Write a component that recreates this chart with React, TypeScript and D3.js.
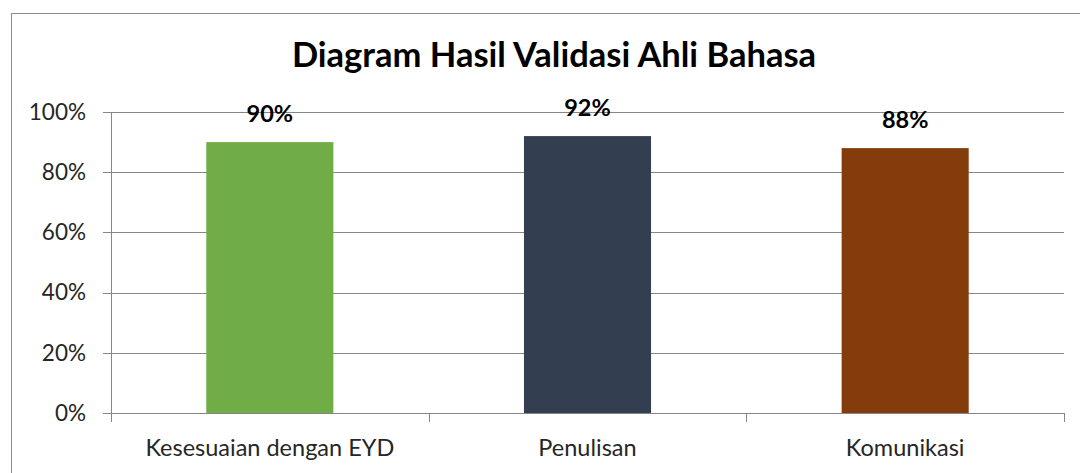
import React, { useEffect, useRef } from "react";
import * as d3 from "d3";

const categories = ["Kesesuaian dengan EYD", "Penulisan", "Komunikasi"];
const values = [0.9, 0.92, 0.88];
const barColors = ["#70AD47", "#333F50", "#843C0C"];
const yTicks = [0, 0.2, 0.4, 0.6, 0.8, 1];
const title = "Diagram Hasil Validasi Ahli Bahasa";

export default function App() {
  const ref = useRef<SVGSVGElement>(null);

  useEffect(() => {
    const width = 1080;
    const height = 473;
    const margin = { left: 111, right: 16, top: 112, bottom: 60 };
    const font = "Lato, Carlito, Calibri, sans-serif";

    const svg = d3.select(ref.current);
    svg.selectAll("*").remove();

    svg
      .append("rect")
      .attr("width", width)
      .attr("height", height)
      .attr("fill", "#fff");

    // chart border (runs off the picture at right and bottom)
    svg
      .append("rect")
      .attr("x", 11.5)
      .attr("y", 13.5)
      .attr("width", width + 20)
      .attr("height", height + 20)
      .attr("fill", "none")
      .attr("stroke", "#8c8c8c")
      .attr("stroke-width", 1);

    svg
      .append("text")
      .attr("x", 554)
      .attr("y", 67)
      .attr("text-anchor", "middle")
      .attr("font-family", font)
      .attr("font-weight", "bold")
      .attr("font-size", "34.5px")
      .attr("fill", "#000")
      .text(title);

    const innerW = width - margin.left - margin.right;
    const innerH = height - margin.top - margin.bottom;

    const g = svg
      .append("g")
      .attr("transform", `translate(${margin.left},${margin.top})`);

    const x = d3
      .scaleBand()
      .domain(categories)
      .range([0, innerW])
      .paddingInner(0.6)
      .paddingOuter(0.3);
    const y = d3.scaleLinear().domain([0, 1]).range([innerH, 0]);

    // gridlines + left ticks
    g.selectAll(".grid")
      .data(yTicks)
      .enter()
      .append("line")
      .attr("x1", -8)
      .attr("x2", innerW)
      .attr("y1", (d) => Math.round(y(d)) + 0.5)
      .attr("y2", (d) => Math.round(y(d)) + 0.5)
      .attr("stroke", "#868686")
      .attr("stroke-width", 1);

    g.selectAll(".ylab")
      .data(yTicks)
      .enter()
      .append("text")
      .attr("x", -25)
      .attr("y", (d) => y(d))
      .attr("dy", "0.35em")
      .attr("text-anchor", "end")
      .attr("font-family", font)
      .attr("font-size", "22.5px")
      .attr("fill", "#262626")
      .text((d) => d3.format(".0%")(d));

    // value axis line
    g.append("line")
      .attr("x1", 0.5)
      .attr("x2", 0.5)
      .attr("y1", 0)
      .attr("y2", innerH)
      .attr("stroke", "#868686");

    // category boundary ticks
    const step = innerW / categories.length;
    g.selectAll(".ctick")
      .data(d3.range(categories.length + 1))
      .enter()
      .append("line")
      .attr("x1", (i) => Math.round(i * step) + 0.5)
      .attr("x2", (i) => Math.round(i * step) + 0.5)
      .attr("y1", innerH)
      .attr("y2", innerH + 9)
      .attr("stroke", "#868686");

    g.selectAll(".bar")
      .data(values)
      .enter()
      .append("rect")
      .attr("x", (d, i) => x(categories[i]) as number)
      .attr("width", x.bandwidth())
      .attr("y", (d) => y(d))
      .attr("height", (d) => innerH - y(d))
      .attr("fill", (d, i) => barColors[i]);

    // axis line drawn over bars
    g.append("line")
      .attr("x1", 0)
      .attr("x2", innerW)
      .attr("y1", Math.round(innerH) + 0.5)
      .attr("y2", Math.round(innerH) + 0.5)
      .attr("stroke", "#868686");

    g.selectAll(".vlab")
      .data(values)
      .enter()
      .append("text")
      .attr("x", (d, i) => (x(categories[i]) as number) + x.bandwidth() / 2)
      .attr("y", (d) => y(d) - 20)
      .attr("text-anchor", "middle")
      .attr("font-family", font)
      .attr("font-weight", "bold")
      .attr("font-size", "23.5px")
      .attr("fill", "#000")
      .text((d) => d3.format(".0%")(d));

    g.selectAll(".clab")
      .data(categories)
      .enter()
      .append("text")
      .attr("x", (d) => (x(d) as number) + x.bandwidth() / 2)
      .attr("y", innerH + 43)
      .attr("text-anchor", "middle")
      .attr("font-family", font)
      .attr("font-size", "23.5px")
      .attr("fill", "#262626")
      .text((d) => d);
  }, []);

  return (
    <svg
      ref={ref}
      width={1080}
      height={473}
      style={{ position: "absolute", left: 0, top: 0, display: "block" }}
    />
  );
}
